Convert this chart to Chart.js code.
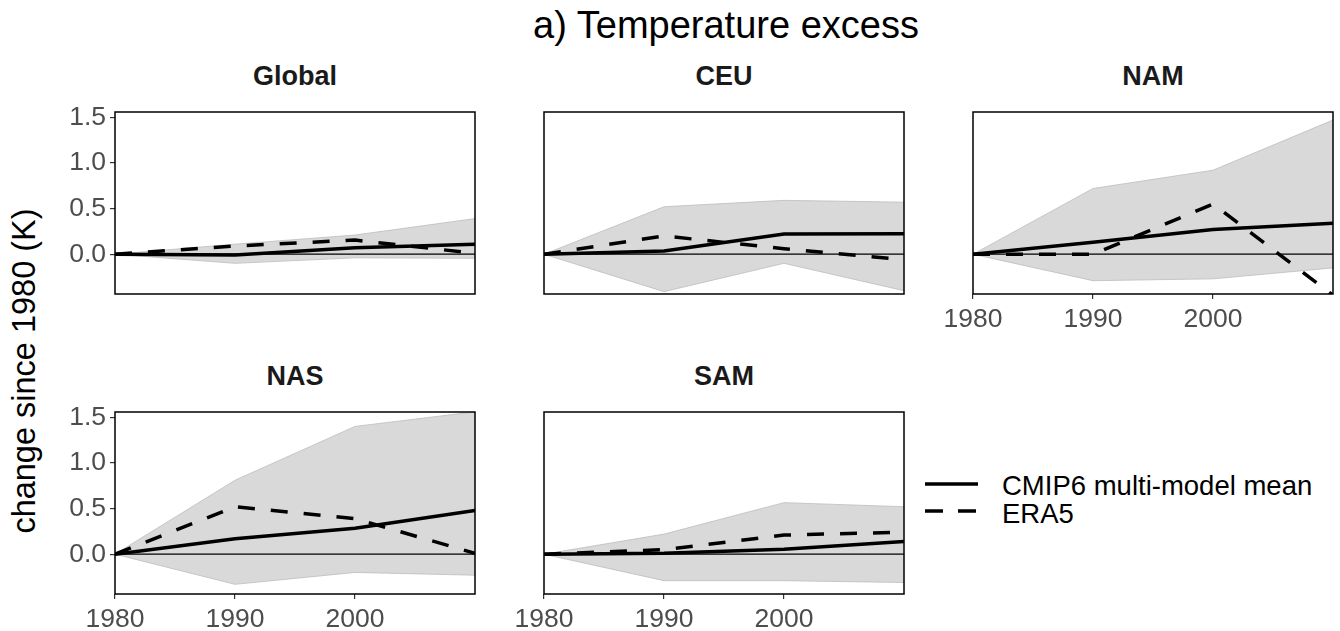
<!DOCTYPE html>
<html>
<head>
<meta charset="utf-8">
<script src="https://cdn.jsdelivr.net/npm/chart.js@4.4.1/dist/chart.umd.min.js"></script>
<style>
  html, body { margin:0; padding:0; background:#fff; width:1340px; height:631px; overflow:hidden; }
  body { position:relative; font-family:"Liberation Sans", Arial, Helvetica, sans-serif; }
  canvas { position:absolute; }
  .txt { position:absolute; white-space:nowrap; }
  .strip { font-weight:bold; font-size:27px; line-height:27px; color:#1a1a1a; width:360px; text-align:center; }
</style>
</head>
<body>
<div class="txt" style="left:426px; width:600px; text-align:center; top:6px; font-size:38px; line-height:38px; color:#000;">a) Temperature excess</div>
<div class="txt" style="left:24px; top:371px; font-size:32.5px; line-height:32.5px; color:#000; transform:translate(-50%,-50%) rotate(-90deg);">change since 1980 (K)</div>

<svg style="position:absolute; left:920px; top:470px;" width="70" height="60">
  <line x1="5" y1="14" x2="58" y2="14" stroke="#000" stroke-width="3.5"/>
  <line x1="5" y1="41" x2="58" y2="41" stroke="#000" stroke-width="3.5" stroke-dasharray="18 15"/>
</svg>
<div class="txt" style="left:1002px; top:472px; font-size:27.5px; line-height:27.5px; color:#000;">CMIP6 multi-model mean</div>
<div class="txt" style="left:1002px; top:500px; font-size:27.5px; line-height:27.5px; color:#000;">ERA5</div>

<script>
// ---- data ----
const years = [1980, 1990, 2000, 2010];
const xTickLabels = [1980, 1990, 2000];
const yTickLabels = [0.0, 0.5, 1.0, 1.5];
const regionNames = ['Global', 'CEU', 'NAM', 'NAS', 'SAM'];

const globalMean = [0, -0.01, 0.07, 0.11];
const globalEra5 = [0, 0.09, 0.155, 0.01];
const globalLow  = [0, -0.10, -0.04, -0.045];
const globalHigh = [0, 0.11, 0.21, 0.39];

const ceuMean = [0, 0.035, 0.22, 0.225];
const ceuEra5 = [0, 0.20, 0.06, -0.06];
const ceuLow  = [0, -0.41, -0.10, -0.40];
const ceuHigh = [0, 0.52, 0.59, 0.57];

const namMean = [0, 0.13, 0.27, 0.34];
const namEra5 = [0, 0.0, 0.55, -0.45];
const namLow  = [0, -0.29, -0.27, -0.15];
const namHigh = [0, 0.72, 0.92, 1.47];

const nasMean = [0, 0.17, 0.285, 0.48];
const nasEra5 = [0, 0.52, 0.39, 0.01];
const nasLow  = [0, -0.33, -0.20, -0.23];
const nasHigh = [0, 0.81, 1.40, 1.56];

const samMean = [0, 0.01, 0.055, 0.14];
const samEra5 = [0, 0.05, 0.21, 0.24];
const samLow  = [0, -0.29, -0.29, -0.31];
const samHigh = [0, 0.22, 0.565, 0.52];

const seriesNames = ['CMIP6 multi-model mean', 'ERA5'];
const yMin = -0.436, yMax = 1.558;

// ---- layout ----
const BOX_W = 360, BOX_H = 182, PAD_L = 70, PAD_T = 30, PAD_R = 5, PAD_B = 45;
const FONT = '"Liberation Sans", Arial, Helvetica, sans-serif';

const panels = [
  { name: regionNames[0], mean: globalMean, era5: globalEra5, low: globalLow, high: globalHigh, left: 115, top: 112, showY: true,  showX: false },
  { name: regionNames[1], mean: ceuMean,    era5: ceuEra5,    low: ceuLow,    high: ceuHigh,    left: 544, top: 112, showY: false, showX: false },
  { name: regionNames[2], mean: namMean,    era5: namEra5,    low: namLow,    high: namHigh,    left: 973, top: 112, showY: false, showX: true  },
  { name: regionNames[3], mean: nasMean,    era5: nasEra5,    low: nasLow,    high: nasHigh,    left: 115, top: 412, showY: true,  showX: true  },
  { name: regionNames[4], mean: samMean,    era5: samEra5,    low: samLow,    high: samHigh,    left: 544, top: 412, showY: false, showX: true  }
];

const borderPlugin = {
  id: 'panelBorder',
  afterDatasetsDraw(chart) {
    const a = chart.chartArea, ctx = chart.ctx;
    ctx.save();
    ctx.strokeStyle = '#000';
    ctx.lineWidth = 1.5;
    ctx.strokeRect(a.left, a.top, a.right - a.left, a.bottom - a.top);
    ctx.restore();
  }
};

const pts = arr => years.map((x, i) => ({ x: x, y: arr[i] }));

panels.forEach(p => {
  const t = document.createElement('div');
  t.className = 'txt strip';
  t.style.left = p.left + 'px';
  t.style.top = (p.top - 49) + 'px';
  t.textContent = p.name;
  document.body.appendChild(t);

  const cv = document.createElement('canvas');
  const W = PAD_L + BOX_W + PAD_R, H = PAD_T + BOX_H + PAD_B;
  cv.width = W; cv.height = H;
  cv.style.width = W + 'px'; cv.style.height = H + 'px';
  cv.style.left = (p.left - PAD_L) + 'px';
  cv.style.top = (p.top - PAD_T) + 'px';
  document.body.appendChild(cv);

  new Chart(cv.getContext('2d'), {
    type: 'line',
    data: {
      datasets: [
        { label: 'upper', data: pts(p.high), fill: '+1', backgroundColor: '#d9d9d9', borderColor: '#bdbdbd', borderWidth: 0.8, pointRadius: 0, tension: 0, order: 5, clip: 0 },
        { label: 'lower', data: pts(p.low), fill: false, borderColor: '#bdbdbd', borderWidth: 0.8, pointRadius: 0, tension: 0, order: 4, clip: 0 },
        { label: 'zero', data: [{ x: 1980, y: 0 }, { x: 2010, y: 0 }], fill: false, borderColor: '#000', borderWidth: 1.3, pointRadius: 0, order: 3, clip: 0 },
        { label: seriesNames[0], data: pts(p.mean), fill: false, borderColor: '#000', borderWidth: 3.5, pointRadius: 0, tension: 0, order: 2, clip: 0 },
        { label: seriesNames[1], data: pts(p.era5), fill: false, borderColor: '#000', borderWidth: 3.5, borderDash: [17, 16], pointRadius: 0, tension: 0, order: 1, clip: 0 }
      ]
    },
    options: {
      responsive: false,
      animation: false,
      devicePixelRatio: 1,
      events: [],
      layout: { padding: { left: 0, top: PAD_T, right: PAD_R, bottom: 0 } },
      plugins: { legend: { display: false }, tooltip: { enabled: false }, title: { display: false } },
      scales: {
        x: {
          type: 'linear', min: 1980, max: 2010,
          afterBuildTicks: s => { s.ticks = xTickLabels.map(v => ({ value: v })); },
          afterFit: s => { s.height = PAD_B; },
          ticks: { display: p.showX, autoSkip: false, maxRotation: 0, padding: 5, color: '#4d4d4d', font: { family: FONT, size: 26.5 }, callback: v => String(v) },
          grid: { display: p.showX, drawOnChartArea: false, drawTicks: true, tickLength: 5, color: '#333333', lineWidth: 1.2 },
          border: { display: false }
        },
        y: {
          type: 'linear', min: yMin, max: yMax,
          afterBuildTicks: s => { s.ticks = yTickLabels.map(v => ({ value: v })); },
          afterFit: s => { s.width = PAD_L; },
          ticks: { display: p.showY, autoSkip: false, padding: 4, color: '#4d4d4d', font: { family: FONT, size: 26.5 }, callback: v => Number(v).toFixed(1) },
          grid: { display: p.showY, drawOnChartArea: false, drawTicks: true, tickLength: 5, color: '#333333', lineWidth: 1.2 },
          border: { display: false }
        }
      }
    },
    plugins: [borderPlugin]
  });
});
</script>
</body>
</html>
